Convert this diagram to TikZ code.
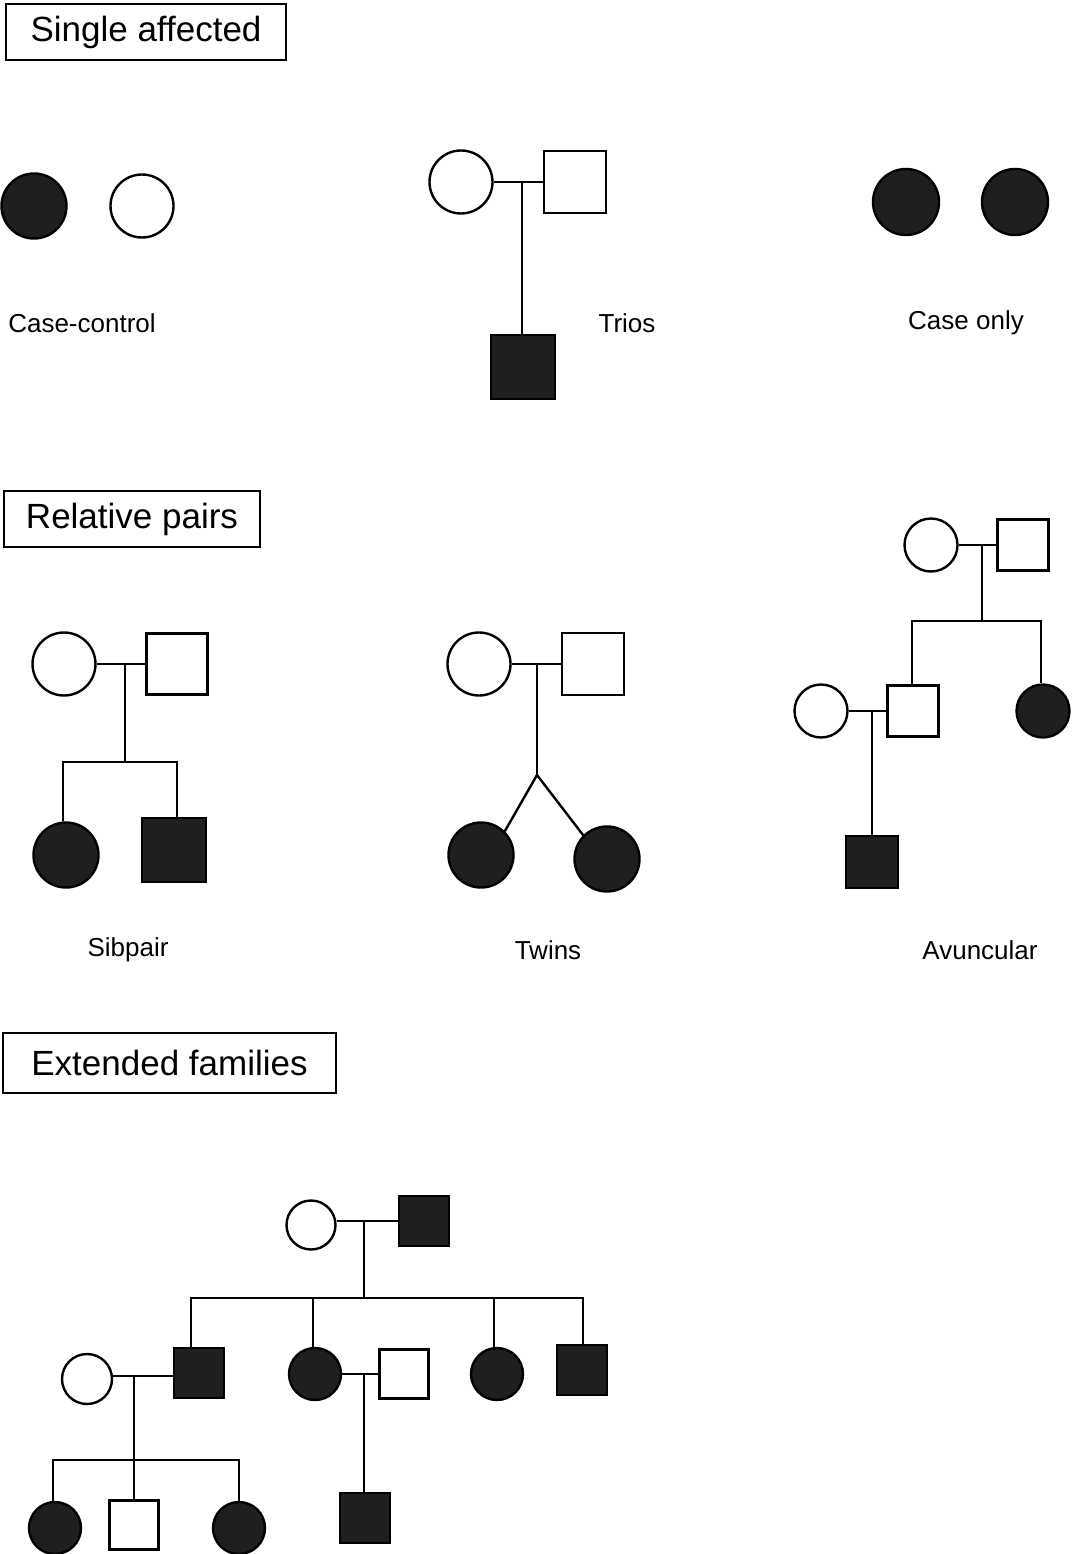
\documentclass[tikz,border=0pt]{standalone}
\usepackage{fontspec}
\setmainfont{Liberation Sans}
\begin{document}
\begin{tikzpicture}[x=1pt,y=-1pt,line width=2.4pt,
  fc/.style={circle,draw,fill=black!88,inner sep=0pt,minimum size=#1},
  oc/.style={circle,draw,fill=white,inner sep=0pt,minimum size=#1},
  fs/.style={rectangle,draw,fill=black!88,inner sep=0pt,minimum size=#1},
  os/.style={rectangle,draw,fill=white,inner sep=0pt,minimum size=#1},
  title/.style={draw,line width=2pt,font=\fontsize{35}{40}\selectfont,inner sep=0pt,anchor=north west},
  lab/.style={font=\fontsize{26}{30}\selectfont}]
\useasboundingbox (0,0) rectangle (1071,1554);
% titles
\node[title,minimum width=280pt,minimum height=56pt] (t1) at (5,3) {Single affected};
\node[title,minimum width=256pt,minimum height=56pt] (t2) at (3,490) {Relative pairs};
\node[title,minimum width=333pt,minimum height=60pt] (t3) at (2,1032) {Extended families};
% case-control
\node[fc=65pt] (cc1) at (34,206) {};
\node[oc=63pt] (cc2) at (142,206) {};
\node[lab] (l1) at (82,323) {Case-control};
% trios
\node[oc=63pt] (tm) at (461,182) {};
\node[os=62pt] (tf) at (575,182) {};
\node[fs=64pt] (tc) at (523,367) {};
\draw (tm.east) -- (tf.west);
\draw (522,182) -- (tc.north -| 522,0);
\node[lab] (l2) at (627,323) {Trios};
% case only
\node[fc=66pt] (co1) at (906,202) {};
\node[fc=66pt] (co2) at (1015,202) {};
\node[lab] (l3) at (966,323) {Case only};
% sibpair
\node[oc=63pt] (sm) at (64,664) {};
\node[os=61pt] (sf) at (177,664) {};
\draw (sm.east) -- (sf.west);
\node[fc=65pt] (s1) at (66,855) {};
\node[fs=64pt] (s2) at (174,850) {};
\coordinate (sj) at (125,664);
\coordinate (sb) at (125,762);
\draw (sj) -- (sb);
\draw (s1.north -| 63,0) |- (sb) -| (s2.north -| 177,0);
\node[lab] (l4) at (128,950) {Sibpair};
% twins
\node[oc=63pt] (wm) at (479,664) {};
\node[os=62pt] (wf) at (593,664) {};
\draw (wm.east) -- (wf.west);
\node[fc=65pt] (w1) at (481,855) {};
\node[fc=65pt] (w2) at (607,859) {};
\coordinate (wj) at (537,664);
\coordinate (wb) at (537,775);
\draw (wj) -- (wb);
\draw (wb) -- (w1.north east);
\draw (wb) -- (w2.north west);
\node[lab] (l5) at (548,950) {Twins};
% avuncular
\node[oc=53pt] (am) at (931,545) {};
\node[os=51pt] (af) at (1023,545) {};
\draw (am.east) -- (af.west);
\node[os=51pt] (as) at (913,711) {};
\node[fc=53pt] (ad) at (1043,711) {};
\node[oc=53pt] (aw) at (821,711) {};
\draw (aw.east) -- (as.west);
\node[fs=52pt] (ac) at (872,862) {};
\coordinate (aj) at (982,545);
\coordinate (ab) at (982,621);
\draw (aj) -- (ab);
\draw (as.north -| 912,0) |- (ab) -| (ad.north -| 1041,0);
\draw (872,711) -- (ac.north);
\node[lab] (l6) at (980,950) {Avuncular};
% extended
\node[oc=49pt] (em) at (311,1225) {};
\node[fs=50pt] (ef) at (424,1221) {};
\draw (em.east |- 0,1221) -- (ef.west);
\coordinate (ej) at (364,1221);
\coordinate (eb) at (364,1298);
\draw (ej) -- (eb);
\node[fs=50pt] (e1) at (199,1373) {};
\node[fc=52pt] (e2) at (315,1374) {};
\node[fc=52pt] (e3) at (497,1374) {};
\node[fs=50pt] (e4) at (582,1370) {};
\draw (e1.north -| 191,0) |- (191,1298) -- (583,1298) -- (e4.north -| 583,0);
\draw (313,1298) -- (e2.north -| 313,0);
\draw (494,1298) -- (e3.north -| 494,0);
\node[oc=50pt] (ew) at (87,1379) {};
\draw (ew.east |- 0,1376) -- (e1.west |- 0,1376);
\coordinate (gj) at (134,1376);
\coordinate (gb) at (134,1460);
\draw (gj) -- (gb);
\node[fc=52pt] (g1) at (55,1528) {};
\node[os=49pt] (g2) at (134,1525) {};
\node[fc=52pt] (g3) at (239,1528) {};
\draw (g1.north -| 53,0) |- (gb) -| (g3.north -| 239,0);
\draw (gb) -- (g2.north);
\node[os=49pt] (eh) at (404,1374) {};
\draw (e2.east) -- (eh.west);
\node[fs=50pt] (ek) at (365,1518) {};
\draw (364,1374) -- (ek.north -| 364,0);
\end{tikzpicture}
\end{document}
